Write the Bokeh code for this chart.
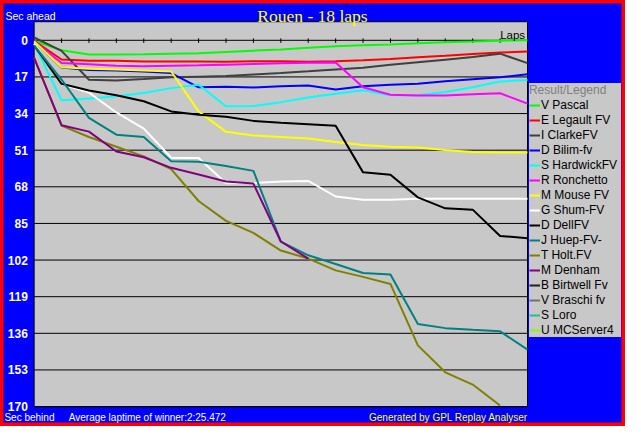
from bokeh.plotting import figure
from bokeh.models import Range1d, Label, Legend, LegendItem, BoxAnnotation
from bokeh.embed import file_html
from bokeh.resources import INLINE
from bokeh.core.properties import value

# ---------------- data ----------------
laps = list(range(19))
y_ticks = [0, 17, 34, 51, 68, 85, 102, 119, 136, 153, 170]
y_tick_labels = [str(t) for t in y_ticks]
tick_laps = list(range(1, 18))

drivers = ["V Pascal", "E Legault FV", "I ClarkeFV", "D Bilim-fv", "S HardwickFV",
           "R Ronchetto", "M Mouse FV", "G Shum-FV", "D DellFV", "J Huep-FV-",
           "T Holt.FV", "M Denham", "B Birtwell Fv", "V Braschi fv", "S Loro",
           "U MCServer4"]
colors = ["#00ff00", "#ff0000", "#404040", "#0000ff", "#00ffff",
          "#ff00ff", "#ffff00", "#ffffff", "#000000", "#008080",
          "#808000", "#800080", "#202020", "#707070", "#20c090",
          "#80ff00"]

pascal   = [0.2, 4.6, 6.6, 6.6, 6.5, 6.2, 6.0, 5.4, 4.8, 4.3, 3.5, 2.8, 2.3, 2.0, 1.4, 0.9, 0.6, 0.2, 0.0]
legault  = [0.3, 8.9, 9.5, 9.5, 9.8, 9.8, 9.8, 10.0, 9.7, 9.7, 9.9, 9.7, 9.3, 8.7, 7.9, 7.2, 6.3, 5.7, 5.2]
clarke   = [-1.3, 4.9, 18.3, 18.6, 18.0, 17.2, 16.9, 16.6, 15.9, 15.2, 14.4, 13.5, 12.7, 11.4, 10.2, 9.0, 7.8, 6.2, 10.6]
bilim    = [0.5, 12.6, 13.8, 14.0, 14.5, 15.2, 21.8, 21.6, 21.9, 21.3, 21.0, 22.8, 21.3, 20.6, 20.2, 19.0, 18.1, 17.2, 15.8]
hardwick = [1.7, 27.8, 27.0, 26.0, 24.5, 22.2, 20.6, 30.6, 30.5, 28.7, 26.5, 24.8, 23.2, 25.5, 25.5, 24.0, 21.8, 19.1, 18.4]
ronchetto = [0.4, 10.5, 11.1, 11.8, 12.0, 11.8, 11.6, 11.3, 11.0, 10.7, 10.4, 10.3, 21.8, 25.3, 25.6, 25.6, 25.0, 24.6, 29.4]
mouse    = [0.6, 12.5, 13.2, 13.6, 14.0, 14.5, 33.0, 42.5, 44.2, 44.9, 45.6, 47.2, 48.6, 49.4, 49.8, 50.9, 51.9, 52.1, 52.1]
shum     = [1.5, 20.3, 24.3, 33.5, 41.0, 54.5, 54.6, 66.4, 66.2, 65.5, 65.3, 72.5, 74.0, 74.0, 73.6, 73.6, 73.6, 73.6, 73.6]
dell     = [2.4, 20.2, 23.3, 25.5, 28.3, 33.0, 34.6, 35.5, 37.4, 38.3, 39.0, 39.7, 61.3, 62.4, 72.9, 78.0, 78.6, 90.8, 91.9]
huep     = [2.4, 18.2, 36.0, 43.8, 44.9, 56.1, 56.4, 58.3, 60.6, 93.4, 99.8, 103.8, 108.0, 108.7, 131.7, 133.6, 134.4, 135.1, 143.6]
holt     = [8.2, 39.6, 44.9, 49.4, 53.9, 59.8, 74.6, 83.8, 89.4, 97.6, 101.3, 106.8, 109.8, 113.1, 141.6, 154.1, 159.8, 169.5]
denham   = [8.2, 39.4, 42.4, 51.6, 54.3, 59.2, 62.3, 65.5, 66.5, 93.4, 101.3]
# drivers with no plotted laps (no value to show)
birtwell = [None]
braschi  = [None]
loro     = [None]
mcserver = [None]

series = [pascal, legault, clarke, bilim, hardwick, ronchetto, mouse, shum,
          dell, huep, holt, denham, birtwell, braschi, loro, mcserver]

title_text = "Rouen - 18 laps"
top_left_text = "Sec ahead"
laps_text = "Laps"
bottom_left_text = "Sec behind"
average_text = "Average laptime of winner:2:25.472"
generated_text = "Generated by GPL Replay Analyser"
legend_title = "Result/Legend"

# ---------------- layout (whole canvas is the frame) ----------------
W, H = 625, 426
SX, SY = W / 641.0, H / 442.0
L = 34.5 * SX            # plot area left (px)
R = 540.5 * SX           # plot area right (px)
Z = 41.3 * SY            # y of the 0 line (px)
KX = (R - L) / 18.0      # px per lap
KY = (421.3 - 41.3) * SY / 170.0   # px per second


def dx(ref_px):
    return (ref_px * SX - L) / KX


def dy(ref_py):
    return (ref_py * SY - Z) / KY


p = figure(width=W, height=H, output_backend="svg", toolbar_location=None,
           x_range=Range1d(dx(0), dx(641)), y_range=Range1d(dy(442), dy(0)),
           min_border=0, x_axis_location=None, y_axis_location=None)
p.background_fill_color = "#0000ff"
p.border_fill_color = "#0000ff"
p.outline_line_color = "#ff0000"
p.outline_line_width = 6
p.grid.visible = False

# plot area
p.add_layout(BoxAnnotation(left=0, right=18, top=dy(22), bottom=dy(421.5),
                           fill_color="#c8c8c8", fill_alpha=1.0,
                           line_color="black", line_width=1, line_alpha=1.0,
                           level="underlay"))

# horizontal grid lines
p.segment(x0=0, x1=18, y0=y_ticks, y1=y_ticks, line_color="black", line_width=1)
# lap ticks on the zero line
p.segment(x0=tick_laps, y0=-0.9, x1=tick_laps, y1=1.2, line_color="black", line_width=1)
# y tick labels
p.text(x=dx(28), y=y_ticks, text=y_tick_labels, text_align="right", text_baseline="middle",
       text_color="white", text_font=value("Liberation Sans"), text_font_style="bold",
       text_font_size="12px")

items = []
for name, col, vals in zip(drivers, colors, series):
    xs = laps[:len(vals)]
    ys = [float("nan") if v is None else v for v in vals]
    r = p.line(xs, ys, line_color=col, line_width=2)
    items.append(LegendItem(label=name, renderers=[r]))

legend = Legend(items=items, location=(542.5 * SX, H - 349.3 * SY), title=legend_title)
legend.background_fill_color = "#c8c8c8"
legend.background_fill_alpha = 1.0
legend.border_line_color = None
legend.title_text_color = "#808080"
legend.title_text_font = "Liberation Sans"
legend.title_text_font_size = "12px"
legend.title_text_font_style = "normal"
legend.title_standoff = 1
legend.label_text_font = "Liberation Sans"
legend.label_text_font_size = "12px"
legend.label_text_color = "black"
legend.glyph_width = 11
legend.glyph_height = 12
legend.label_height = 12
legend.label_width = 80
legend.label_standoff = 1
legend.spacing = 1
legend.padding = 2
legend.margin = 0
p.add_layout(legend, "center")

# texts
def add_text(x, y, text, align, color, font, size):
    p.add_layout(Label(x=dx(x), y=dy(y), text=text, text_align=align,
                       text_baseline="alphabetic", text_color=color,
                       text_font=font, text_font_size=size))


add_text(320, 16, title_text, "center", "#ffff00", "Liberation Serif", "17.5px")
add_text(5, 16, top_left_text, "left", "white", "Liberation Sans", "10.5px")
add_text(538, 36, laps_text, "right", "black", "Liberation Sans", "11.5px")
add_text(4, 433, bottom_left_text, "left", "white", "Liberation Sans", "10px")
add_text(70, 433, average_text, "left", "white", "Liberation Sans", "10px")
add_text(541, 433, generated_text, "right", "#ffff00", "Liberation Sans", "10px")

open("out.html", "w").write(file_html(p, INLINE))
